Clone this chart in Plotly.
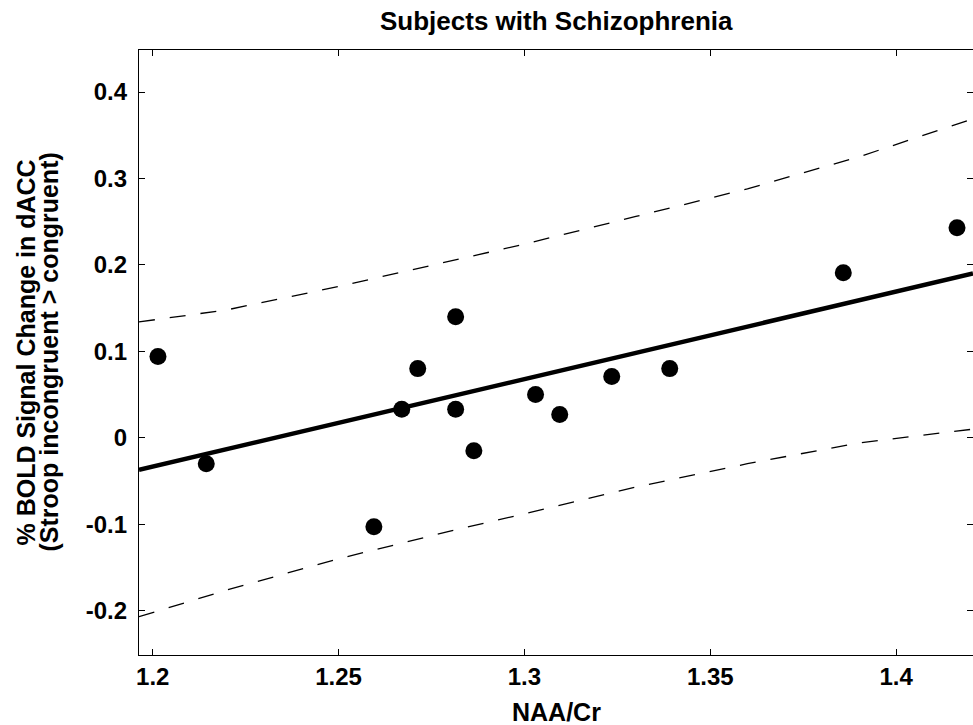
import plotly.graph_objects as go

# Scatter data (NAA/Cr vs % BOLD signal change)
naa_cr = [1.2014, 1.2144, 1.2595, 1.2670, 1.2713, 1.2815, 1.2815, 1.2864,
          1.3030, 1.3095, 1.3235, 1.3391, 1.3858, 1.4164]
bold_change = [0.094, -0.030, -0.103, 0.033, 0.080, 0.140, 0.033, -0.015,
               0.050, 0.027, 0.071, 0.080, 0.191, 0.243]

# Regression line and confidence bounds
curve_x = [1.1963, 1.22, 1.25, 1.28, 1.30, 1.33, 1.36, 1.39, 1.4207]
fit_y = [-0.037, -0.013, 0.017, 0.048, 0.068, 0.098, 0.129, 0.159, 0.190]
upper_y = [0.134, 0.148, 0.175, 0.204, 0.224, 0.256, 0.288, 0.325, 0.369]
lower_y = [-0.207, -0.176, -0.140, -0.108, -0.088, -0.057, -0.030, -0.006, 0.010]

x_ticks = [1.2, 1.25, 1.3, 1.35, 1.4]
x_tick_labels = ["1.2", "1.25", "1.3", "1.35", "1.4"]
y_ticks = [-0.2, -0.1, 0, 0.1, 0.2, 0.3, 0.4]
y_tick_labels = ["-0.2", "-0.1", "0", "0.1", "0.2", "0.3", "0.4"]

FONT = "Arial, 'Liberation Sans', sans-serif"
X_RANGE = [1.1963, 1.4207]
Y_RANGE = [-0.2513, 0.4486]

fig = go.Figure()
fig.add_trace(go.Scatter(x=curve_x, y=upper_y, mode="lines",
                         line=dict(color="black", width=1.3, dash="16px,15px"),
                         showlegend=False, hoverinfo="skip"))
fig.add_trace(go.Scatter(x=curve_x, y=lower_y, mode="lines",
                         line=dict(color="black", width=1.3, dash="16px,15px"),
                         showlegend=False, hoverinfo="skip"))
fig.add_trace(go.Scatter(x=curve_x, y=fit_y, mode="lines",
                         line=dict(color="black", width=4.5),
                         showlegend=False))
fig.add_trace(go.Scatter(x=naa_cr, y=bold_change, mode="markers",
                         marker=dict(color="black", size=17),
                         showlegend=False))
fig.add_trace(go.Scatter(x=[None], y=[None], yaxis="y2", showlegend=False, hoverinfo="skip"))

axis_common = dict(ticks="inside", ticklen=6, tickwidth=1, tickcolor="black",
                   showgrid=False, zeroline=False, automargin=False)

fig.update_layout(
    width=973, height=725,
    margin=dict(l=139, r=0, t=50, b=70),
    paper_bgcolor="white", plot_bgcolor="white",
    font=dict(family=FONT, color="black", size=24),
    xaxis=dict(range=X_RANGE, tickvals=x_ticks, ticktext=[f"<b>{t}</b>" for t in x_tick_labels],
               showline=True, linecolor="black", linewidth=1.3, mirror="ticks",
               ticklabelstandoff=0, **axis_common),
    yaxis=dict(range=Y_RANGE, tickvals=y_ticks, ticktext=[f"<b>{t}</b>" for t in y_tick_labels],
               showline=True, linecolor="black", linewidth=1.3, mirror=False,
               ticklabelstandoff=6, **axis_common),
    yaxis2=dict(range=Y_RANGE, tickvals=y_ticks, overlaying="y", side="right",
                showticklabels=False, showline=False, **axis_common),
    annotations=[
        dict(text="<b>Subjects with Schizophrenia</b>", xref="paper", yref="paper",
             x=0.5, y=1 + (50 - 21) / 605, xanchor="center", yanchor="middle",
             showarrow=False, font=dict(size=26)),
        dict(text="<b>NAA/Cr</b>", xref="paper", yref="paper",
             x=0.5, y=-(712 - 655) / 605, xanchor="center", yanchor="middle",
             showarrow=False, font=dict(size=25)),
        dict(text="<b>% BOLD Signal Change in dACC</b>", xref="paper", yref="paper",
             x=-(139 - 25) / 834, y=0.5, xanchor="center", yanchor="middle",
             textangle=-90, showarrow=False, font=dict(size=25)),
        dict(text="<b>(Stroop incongruent > congruent)</b>", xref="paper", yref="paper",
             x=-(139 - 48) / 834, y=0.5, xanchor="center", yanchor="middle",
             textangle=-90, showarrow=False, font=dict(size=25)),
    ],
)

fig.write_html("out.html",
               config={"displayModeBar": False},
               post_script="document.body.style.margin='0px';document.body.style.overflow='hidden';")
